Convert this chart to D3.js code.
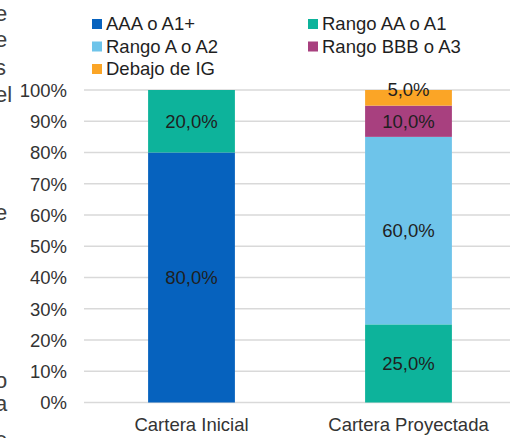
<!DOCTYPE html>
<html>
<head>
<meta charset="utf-8">
<script src="https://cdn.jsdelivr.net/npm/d3@7"></script>
<style>
  html, body { margin: 0; padding: 0; background: #fff; overflow: hidden; }
  text { font-family: "Liberation Sans", Arial, sans-serif; }
</style>
</head>
<body>
<svg id="chart" width="510" height="438"></svg>
<script>
// datos
const categories = ["Cartera Inicial", "Cartera Proyectada"];
const seriesNames = ["AAA o A1+", "Rango AA o A1", "Rango A o A2", "Rango BBB o A3", "Debajo de IG"];
const seriesColors = ["#0662BE", "#0DB39B", "#6EC4EA", "#A8407F", "#FBA526"];
const aaa = [0.80, 0];
const aa = [0.20, 0.25];
const a = [0, 0.60];
const bbb = [0, 0.10];
const ig = [0, 0.05];
const yTicks = [0, 0.1, 0.2, 0.3, 0.4, 0.5, 0.6, 0.7, 0.8, 0.9, 1];
// fragmentos del texto del documento cortado a la izquierda
const sideText = ["e", "e", "s", "el", "e", "o", "a", "e"];

const svg = d3.select("#chart");
const fmt = d3.format(".1%");
const fmtComma = v => fmt(v).replace(".", ",");
const fs = 18.5;

const rows = categories.map((c, i) => ({
  cat: c,
  [seriesNames[0]]: aaa[i],
  [seriesNames[1]]: aa[i],
  [seriesNames[2]]: a[i],
  [seriesNames[3]]: bbb[i],
  [seriesNames[4]]: ig[i]
}));

const x = d3.scaleBand().domain(categories).range([83, 517]).paddingInner(0.6).paddingOuter(0.3);
const y = d3.scaleLinear().domain([0, 1]).range([402.5, 90]);
const color = d3.scaleOrdinal().domain(seriesNames).range(seriesColors);

// texto cortado
const sideY = [21, 47, 75, 102, 220, 388, 411, 447];
svg.append("g").selectAll("text")
  .data(sideText)
  .enter().append("text")
  .attr("x", -5)
  .attr("y", (d, i) => sideY[i])
  .attr("font-size", 22)
  .attr("fill", "#404040")
  .text(d => d);

// lineas de grilla
const grid = svg.append("g");
grid.selectAll("line")
  .data(yTicks)
  .enter().append("line")
  .attr("x1", 84).attr("x2", 518)
  .attr("y1", d => y(d)).attr("y2", d => y(d))
  .attr("stroke", "#d9d9d9")
  .attr("stroke-width", 1.5);

// eje y
const yAxis = svg.append("g")
  .attr("transform", "translate(67,0)")
  .call(d3.axisLeft(y).tickValues(yTicks).tickFormat(d3.format(".0%")).tickSize(0).tickPadding(0));
yAxis.select(".domain").remove();
yAxis.selectAll("text")
  .attr("font-size", fs)
  .attr("fill", "#333")
  .attr("dy", "0.35em");

// barras apiladas
const stacked = d3.stack().keys(seriesNames)(rows);
const layers = svg.append("g").selectAll("g")
  .data(stacked)
  .enter().append("g")
  .attr("fill", d => color(d.key));

layers.selectAll("rect")
  .data(d => d.filter(p => p[1] - p[0] > 0))
  .enter().append("rect")
  .attr("x", d => x(d.data.cat))
  .attr("y", d => y(d[1]))
  .attr("width", x.bandwidth())
  .attr("height", d => y(d[0]) - y(d[1]));

layers.selectAll("text")
  .data(d => d.filter(p => p[1] - p[0] > 0))
  .enter().append("text")
  .attr("x", d => x(d.data.cat) + x.bandwidth() / 2)
  .attr("y", d => {
    const h = y(d[0]) - y(d[1]);
    return h < 20 ? y(d[1]) : (y(d[0]) + y(d[1])) / 2;
  })
  .attr("dy", "0.35em")
  .attr("text-anchor", "middle")
  .attr("font-size", fs)
  .attr("fill", "#1f1f1f")
  .text(d => fmtComma(d[1] - d[0]));

// eje x
const xAxis = svg.append("g")
  .attr("transform", "translate(0,402.5)")
  .call(d3.axisBottom(x).tickSize(0).tickPadding(15));
xAxis.select(".domain").remove();
xAxis.selectAll("text")
  .attr("font-size", fs)
  .attr("fill", "#333");

// leyenda
const legend = svg.append("g").selectAll("g")
  .data(seriesNames)
  .enter().append("g")
  .attr("transform", (d, i) => "translate(" + (92 + (i % 2) * 216) + "," + (19 + Math.floor(i / 2) * 22.5) + ")");
legend.append("rect")
  .attr("width", 10).attr("height", 10)
  .attr("fill", d => color(d));
legend.append("text")
  .attr("x", 14)
  .attr("y", 5)
  .attr("dy", "0.35em")
  .attr("font-size", fs)
  .attr("fill", "#1f1f1f")
  .text(d => d);
</script>
</body>
</html>
